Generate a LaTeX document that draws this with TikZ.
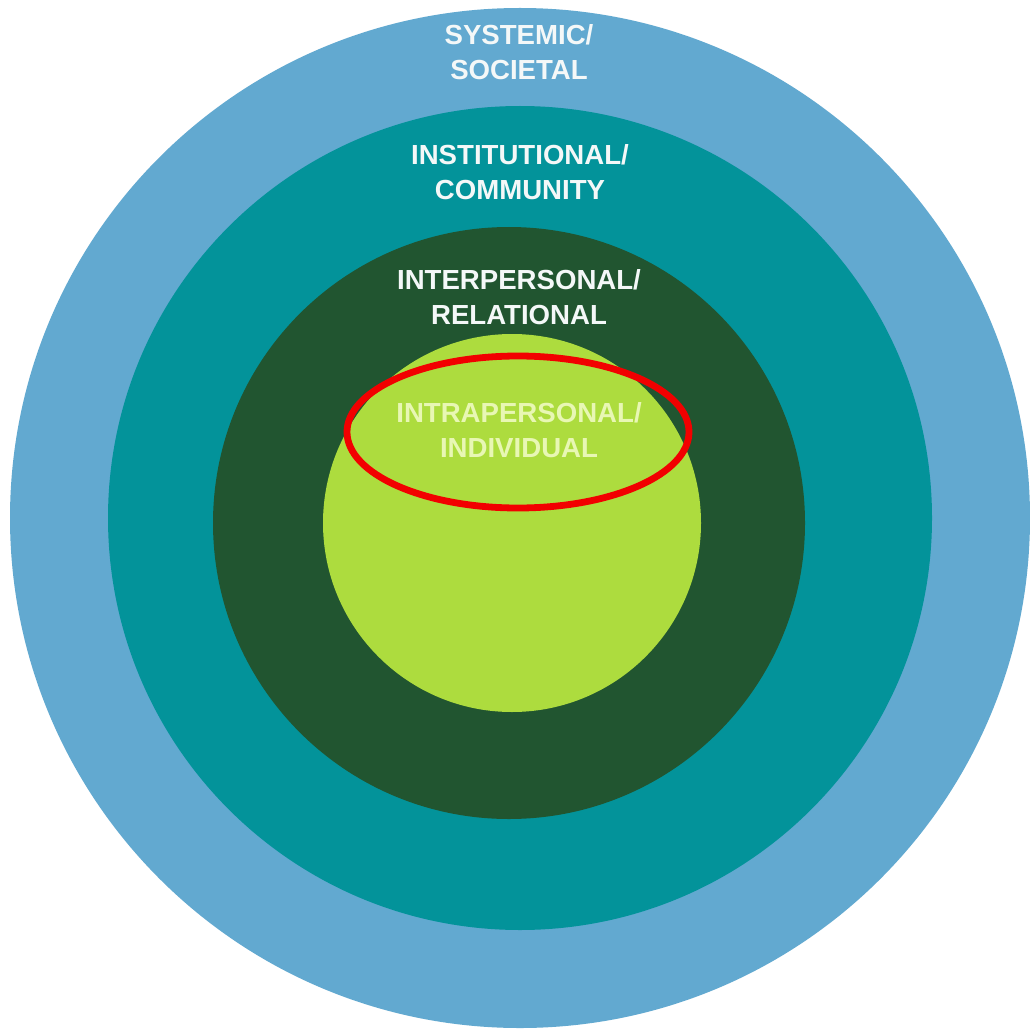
\documentclass[tikz,border=0pt]{standalone}
\usepackage{fontspec}
\setmainfont{Liberation Sans}
\definecolor{outerblue}{HTML}{62A9D0}
\definecolor{tealc}{HTML}{03939A}
\definecolor{darkg}{HTML}{215530}
\definecolor{lightg}{HTML}{ADDC3E}
\definecolor{ringred}{HTML}{F20000}
\definecolor{paletxt}{HTML}{E8F7B4}
\definecolor{whitetxt}{HTML}{F4F8F8}
\begin{document}
\begin{tikzpicture}[x=0.5pt,y=-0.5pt,
  ring/.style={circle,inner sep=0pt,draw=none},
  lbl/.style={align=center,font=\fontsize{13.8pt}{17.5pt}\selectfont\bfseries,text=whitetxt,inner sep=0pt}]
\useasboundingbox[fill=white] (0,0) rectangle (1029,1032);
\node[ring,fill=outerblue,minimum size=510pt] (sys) at (520,518) {};
\node[ring,fill=tealc,minimum size=412pt] (inst) at (520,518) {};
\node[ring,fill=darkg,minimum size=296pt] (inter) at (509,523) {};
\node[ring,fill=lightg,minimum size=189pt] (intra) at (512,523) {};
\node[lbl] (tsys) at (519,52) {SYSTEMIC/\\SOCIETAL};
\node[lbl] (tinst) at (520,172) {INSTITUTIONAL/\\COMMUNITY};
\node[lbl] (tinter) at (519,297) {INTERPERSONAL/\\RELATIONAL};
\node[lbl,text=paletxt] (tintra) at (519,430) {INTRAPERSONAL/\\INDIVIDUAL};
\draw[ringred,line width=3.4pt] (518,432) ellipse [x radius=85.5pt, y radius=38pt];
\end{tikzpicture}
\end{document}
